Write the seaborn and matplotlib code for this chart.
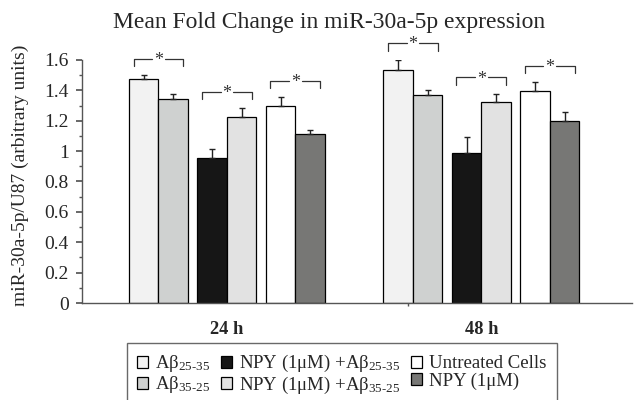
import matplotlib
matplotlib.use("Agg")
import matplotlib.pyplot as plt
import seaborn as sns
import numpy as np
import pandas as pd

sns.set_theme(style="ticks")
plt.rcParams.update(
    {
        "font.family": ["Liberation Serif", "DejaVu Serif"],
        "mathtext.fontset": "stix",
        "mathtext.default": "regular",
    }
)

# Data
times = ["24 h", "48 h"]
treatments = [
    "Ab25-35",
    "Ab35-25",
    "NPY+Ab25-35",
    "NPY+Ab35-25",
    "Untreated",
    "NPY",
]
legend_labels = [
    r"A$\beta_{25\text{-}35}$",
    r"A$\beta_{35\text{-}25}$",
    r"NPY (1μM) +A$\beta_{25\text{-}35}$",
    r"NPY (1μM) +A$\beta_{35\text{-}25}$",
    "Untreated Cells",
    "NPY (1μM)",
]
values_24h = [1.475, 1.343, 0.957, 1.224, 1.297, 1.113]
values_48h = [1.531, 1.371, 0.990, 1.325, 1.395, 1.200]
errors_24h = [0.023, 0.033, 0.057, 0.057, 0.057, 0.023]
errors_48h = [0.070, 0.030, 0.105, 0.050, 0.057, 0.055]
colors = ["#f2f2f2", "#cfd1d0", "#161616", "#e2e2e2", "#ffffff", "#777775"]

df = pd.DataFrame(
    {
        "time": np.repeat(times, len(treatments)),
        "treatment": treatments * len(times),
        "value": values_24h + values_48h,
        "err": errors_24h + errors_48h,
    }
)

fig = plt.figure(figsize=(6.34, 4.0), dpi=100)
ax = fig.add_axes([82 / 634, 97 / 400, 550 / 634, 243 / 400])

sns.barplot(
    data=df,
    x="time",
    y="value",
    hue="treatment",
    hue_order=treatments,
    order=times,
    palette=colors,
    width=0.696,
    gap=0,
    dodge=True,
    errorbar=None,
    edgecolor="black",
    linewidth=0.9,
    legend=False,
    ax=ax,
)
bars = list(ax.containers)

# spread the three pairs apart a little
pair_gap = 0.037
for i, cont in enumerate(bars):
    for bar in cont:
        bar.set_x(bar.get_x() + (i // 2 - 1) * pair_gap)

# upper error bars
for i, cont in enumerate(bars):
    for j, bar in enumerate(cont.patches):
        xc = bar.get_x() + bar.get_width() / 2
        err = (errors_24h, errors_48h)[j][i]
        ax.errorbar(
            xc, bar.get_height(), yerr=[[0], [err]], fmt="none",
            ecolor="#222222", elinewidth=1, capsize=2.2, capthick=1,
        )

# significance brackets over each pair
for j in range(len(times)):
    errs = (errors_24h, errors_48h)[j]
    for p in range(3):
        b1 = bars[2 * p].patches[j]
        b2 = bars[2 * p + 1].patches[j]
        top = max(b1.get_height() + errs[2 * p], b2.get_height() + errs[2 * p + 1])
        h = top + 0.11
        x1 = b1.get_x() + 0.018
        x2 = b2.get_x() + b2.get_width() - 0.018
        xm = (x1 + x2) / 2
        kw = dict(color="#333333", lw=0.9, clip_on=False)
        ax.plot([x1, x1, xm - 0.025], [h - 0.05, h, h], **kw)
        ax.plot([xm + 0.025, x2, x2], [h, h, h - 0.05], **kw)
        ax.text(xm, h - 0.012, "*", ha="center", va="center", fontsize=13,
                color="#333333", clip_on=False)

ax.set_xlim(-0.5695, 1.592)
ax.set_ylim(0, 1.6)
ax.set_yticks(np.arange(0, 1.61, 0.2))
ax.set_yticks(np.arange(0.1, 1.6, 0.2), minor=True)
ax.yaxis.set_major_formatter(matplotlib.ticker.FormatStrFormatter("%g"))
ax.set_xticks([0, 1], times, fontweight="bold", fontsize=13.3)
ax.set_xticks([0.713], minor=True)
ax.tick_params(axis="x", which="major", length=0, pad=13)
ax.tick_params(axis="x", which="minor", length=2, color="#555555")
ax.tick_params(axis="y", which="major", length=4, labelsize=14, color="#555555", pad=5.5)
ax.tick_params(axis="y", which="minor", length=2.5, color="#555555")
for s in ["top", "right"]:
    ax.spines[s].set_visible(False)
for s in ["left", "bottom"]:
    ax.spines[s].set_color("#555555")
    ax.spines[s].set_linewidth(1)

ax.set_xlabel("")
ax.set_ylabel("miR-30a-5p/U87 (arbitrary units)", fontsize=14)
ax.yaxis.set_label_coords(-0.097, 0.527)
fig.text(329 / 634, 1 - 28 / 400, "Mean Fold Change in miR-30a-5p expression",
         fontsize=17, ha="center", va="baseline")

leg = fig.legend(
    [c.patches[0] for c in bars],
    legend_labels,
    ncol=3,
    loc="upper left",
    bbox_to_anchor=(127 / 634, 1 - 343 / 400),
    fontsize=13.5,
    frameon=True,
    fancybox=False,
    edgecolor="#444444",
    handlelength=0.57,
    handleheight=0.57,
    handletextpad=0.39,
    columnspacing=0.56,
    labelspacing=0.0,
    borderpad=0.55,
    borderaxespad=0,
)
leg.get_frame().set_linewidth(1)

fig.savefig("out.png", dpi=100)
